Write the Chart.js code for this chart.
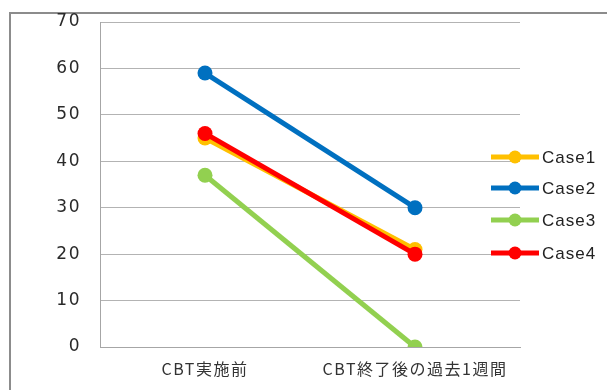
<!DOCTYPE html>
<html>
<head>
<meta charset="utf-8">
<script src="https://cdn.jsdelivr.net/npm/chart.js@4/dist/chart.umd.min.js"></script>
<style>
	html, body { margin: 0; padding: 0; background: #fff; overflow: hidden; }
	#wrap { position: relative; width: 607px; height: 390px; }
	#frame { position: absolute; left: 9px; top: 12px; width: 700px; height: 500px; border: 2px solid #8c8c8c; box-sizing: border-box; }
	canvas { position: absolute; left: 0; top: 0; }
</style>
</head>
<body>
<div id="wrap">
	<div id="frame"></div>
	<canvas id="chart" width="607" height="390"></canvas>
</div>
<script>
const categories = ['CBT実施前', 'CBT終了後の過去1週間'];
const seriesNames = ['Case1', 'Case2', 'Case3', 'Case4'];
const case1 = [45, 21];
const case2 = [59, 30];
const case3 = [37, 0];
const case4 = [46, 20];
const yTicks = [0, 10, 20, 30, 40, 50, 60, 70];

const colors = ['#FFC000', '#0070C0', '#92D050', '#FF0000'];
const values = [case1, case2, case3, case4];

// the original's text is set with loose letter spacing
const spacingPlugin = {
	id: 'spacing',
	beforeUpdate(chart) { chart.ctx.letterSpacing = '1.5px'; },
	beforeDraw(chart) { chart.ctx.letterSpacing = '1.5px'; }
};

// legend drawn by hand so it can sit over the right edge of the plot, like the original
const legendPlugin = {
	id: 'sideLegend',
	afterDraw(chart) {
		const ctx = chart.ctx;
		const rows = [157, 188, 220, 253];
		ctx.save();
		ctx.letterSpacing = '1px';
		seriesNames.forEach((name, i) => {
			const y = rows[i];
			ctx.strokeStyle = colors[i];
			ctx.lineWidth = 5;
			ctx.beginPath();
			ctx.moveTo(491, y);
			ctx.lineTo(539, y);
			ctx.stroke();
			ctx.fillStyle = colors[i];
			ctx.beginPath();
			ctx.arc(515, y, 6.5, 0, Math.PI * 2);
			ctx.fill();
			ctx.fillStyle = '#222';
			ctx.font = '17px "Liberation Sans", Arial, sans-serif';
			ctx.textBaseline = 'middle';
			ctx.fillText(name, 542, y + 1);
		});
		ctx.restore();
	}
};

const datasets = seriesNames.map((name, i) => ({
	label: name,
	data: values[i],
	borderColor: colors[i],
	backgroundColor: colors[i],
	borderWidth: 5,
	pointRadius: 7.5,
	pointHoverRadius: 7.5,
	pointBorderWidth: 0,
	order: name === 'Case4' ? 0 : i + 1
}));

new Chart(document.getElementById('chart'), {
	type: 'line',
	data: { labels: categories, datasets: datasets },
	options: {
		responsive: false,
		animation: false,
		layout: { padding: { top: 22, right: 87, bottom: 0, left: 0 } },
		plugins: {
			legend: { display: false },
			tooltip: { enabled: false }
		},
		scales: {
			x: {
				offset: true,
				grid: { display: false, drawTicks: false },
				border: { display: true, color: '#a6a6a6', width: 1 },
				ticks: {
					padding: 12,
					color: '#333',
					font: { size: 16, family: '"Noto Sans CJK JP", "DejaVu Sans", sans-serif' }
				},
				afterFit: s => { s.height = 43; }
			},
			y: {
				min: 0,
				max: 70,
				afterBuildTicks: s => { s.ticks = yTicks.map(v => ({ value: v })); },
				grid: { color: '#b3b3b3', lineWidth: 1, drawTicks: false },
				border: { display: true, color: '#a6a6a6', width: 1 },
				ticks: {
					padding: 19,
					color: '#2a2a2a',
					font: { size: 17, family: '"DejaVu Sans", sans-serif' }
				},
				// fixed width, and drop the label overhang so layout padding sets the top
				afterFit: s => { s.width = 100; s.paddingTop = 0; s.paddingBottom = 0; }
			}
		}
	},
	plugins: [spacingPlugin, legendPlugin]
});
</script>
</body>
</html>
